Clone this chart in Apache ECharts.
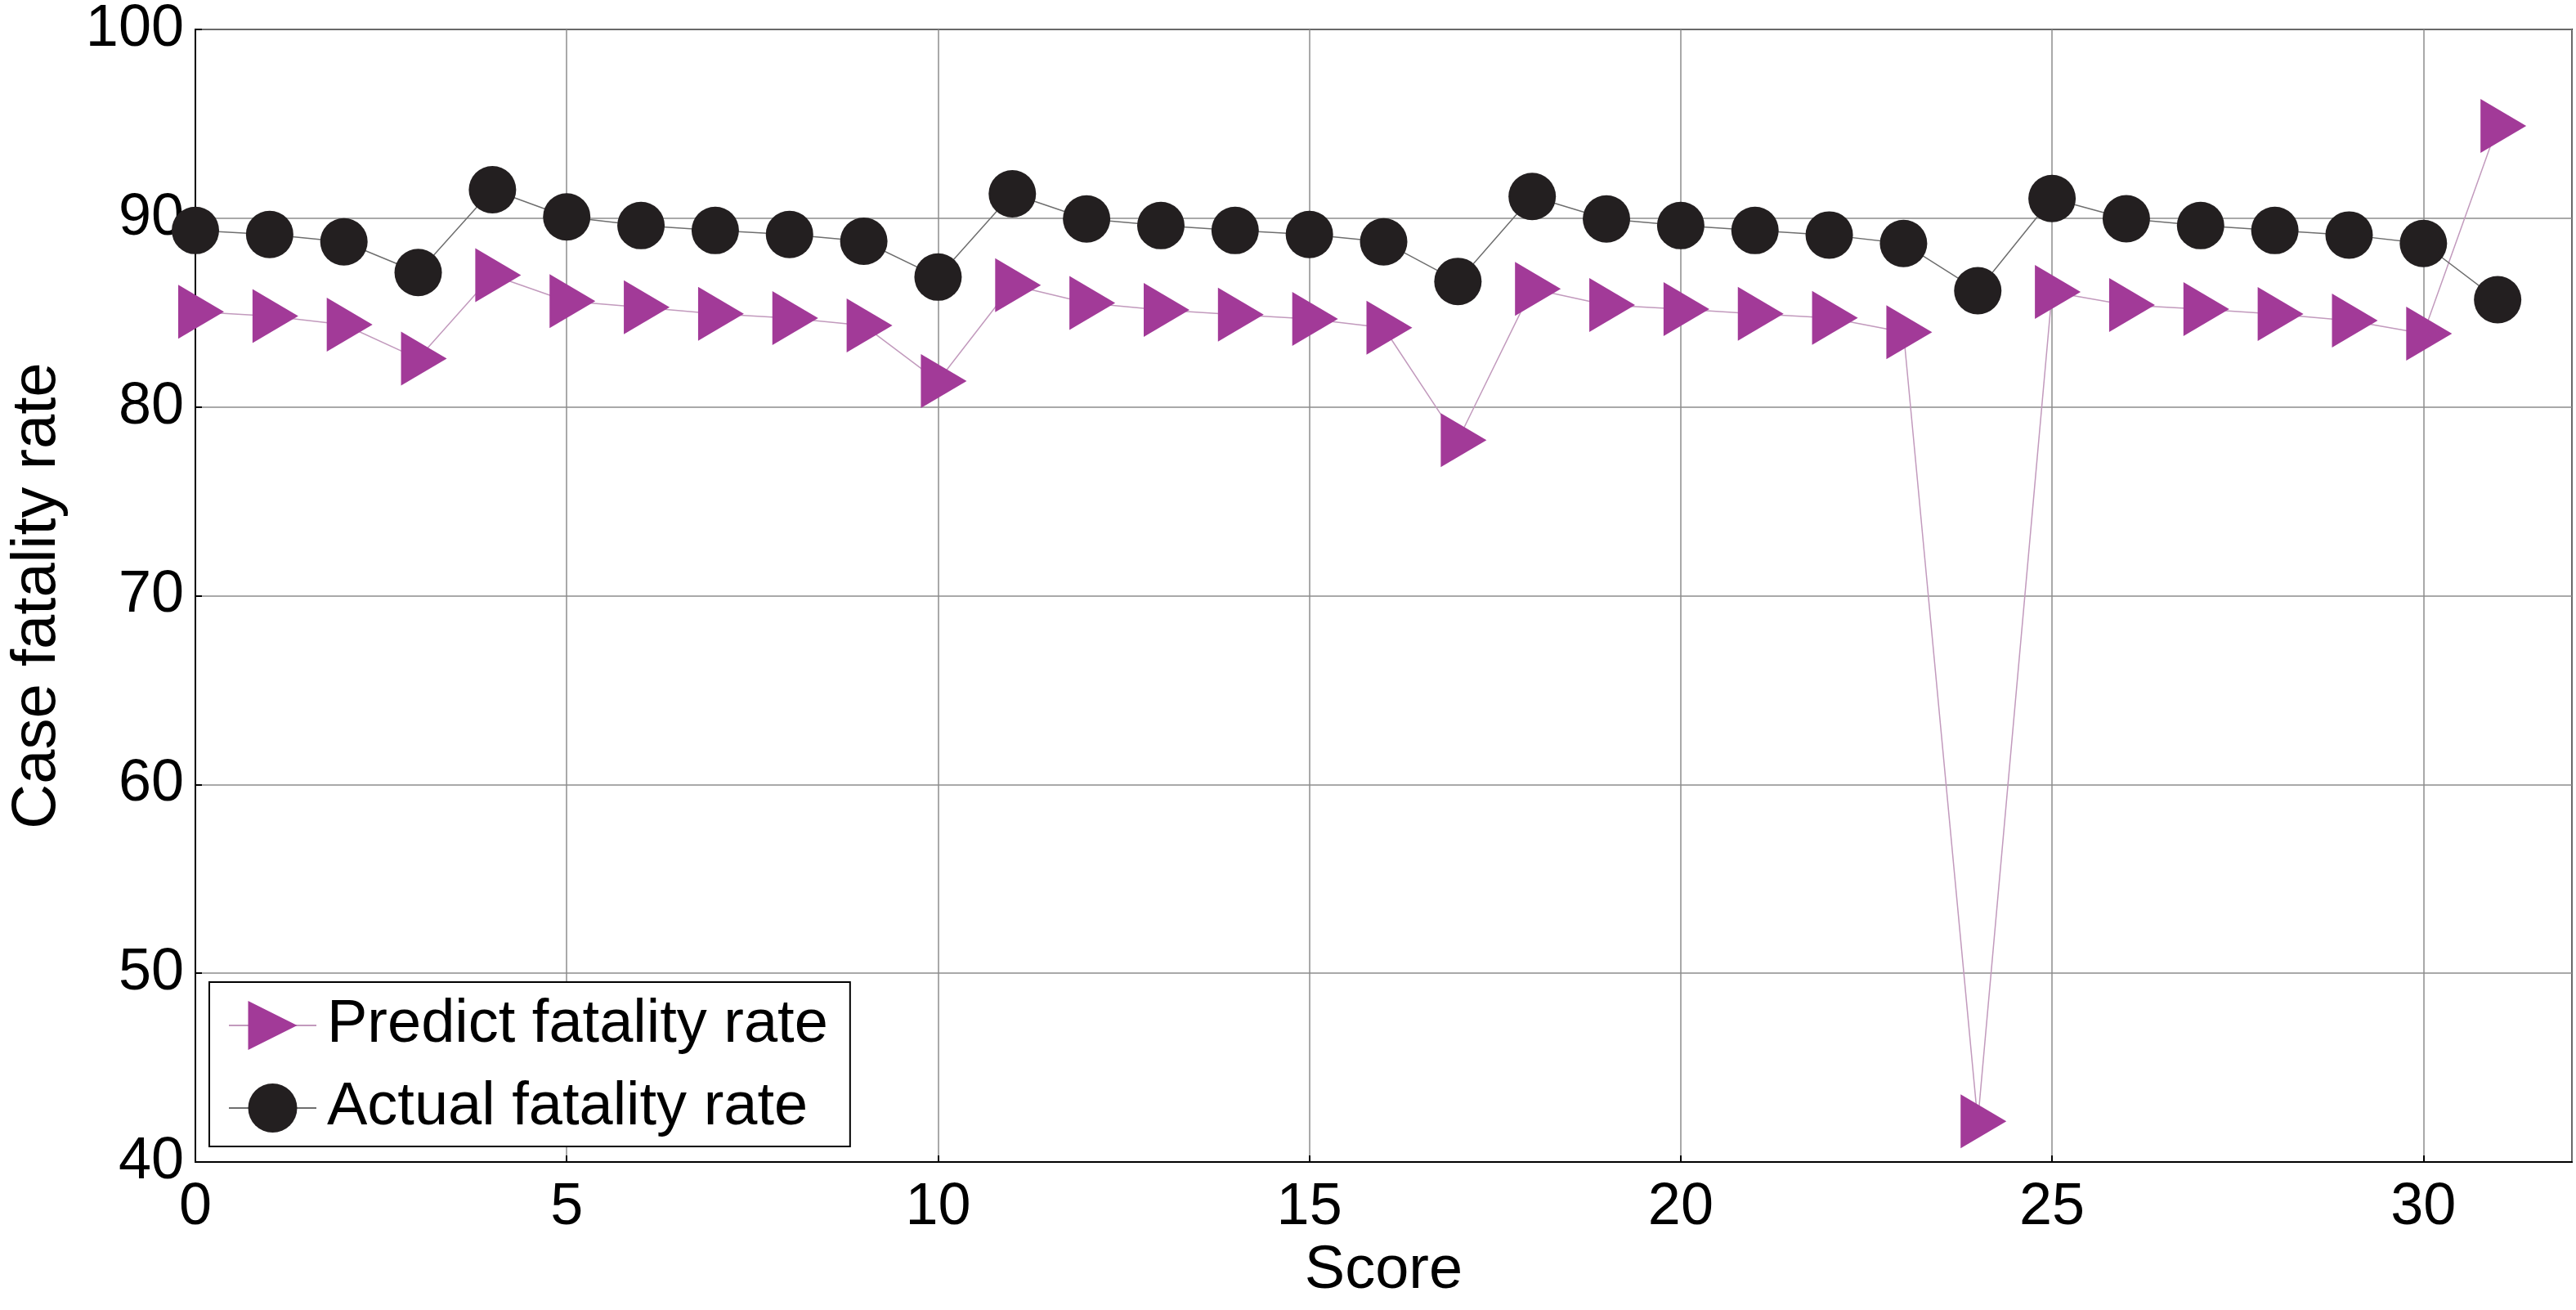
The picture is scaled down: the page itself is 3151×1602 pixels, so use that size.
<!DOCTYPE html>
<html>
<head>
<meta charset="utf-8">
<script src="https://cdn.jsdelivr.net/npm/echarts@6/dist/echarts.min.js"></script>
<style>
html, body { margin: 0; padding: 0; background: #fff; }
#chart1 { width: 3151px; height: 1602px; }
</style>
</head>
<body>
<div id="chart1"></div>
<script>
// scores on the x axis
var scores = [0, 1, 2, 3, 4, 5, 6, 7, 8, 9, 10, 11, 12, 13, 14, 15,
    16, 17, 18, 19, 20, 21, 22, 23, 24, 25, 26, 27, 28, 29, 30, 31];

// predicted fatality rate (triangles)
var predictRate = [85.04, 84.82, 84.36, 82.56, 86.98, 85.61, 85.28, 84.94, 84.71, 84.32,
    81.37, 86.45, 85.51, 85.14, 84.89, 84.66, 84.20, 78.24, 86.26, 85.40,
    85.18, 84.94, 84.72, 83.96, 42.15, 86.09, 85.40, 85.18, 84.92, 84.58,
    83.88, 94.89];

// actual fatality rate (circles)
var actualRate = [89.35, 89.14, 88.75, 87.12, 91.51, 90.07, 89.61, 89.35, 89.14, 88.78,
    86.88, 91.29, 89.96, 89.61, 89.35, 89.14, 88.75, 86.65, 91.15, 89.96,
    89.61, 89.35, 89.11, 88.66, 86.16, 91.04, 89.97, 89.61, 89.35, 89.11,
    88.66, 85.68];

var seriesNames = ['Predict fatality rate', 'Actual fatality rate'];

var FONT = '"Liberation Sans", Arial, sans-serif';

function pairs(xs, ys) {
    var out = [];
    for (var i = 0; i < xs.length; i++) {
        out.push([xs[i], ys[i]]);
    }
    return out;
}

// right-pointing triangle marker
var triPath = 'path://M0,0 L0,66 L56,33 Z';

var chart = echarts.init(document.getElementById('chart1'));

var option = {
    backgroundColor: '#fff',
    animation: false,
    textStyle: { fontFamily: FONT, color: '#000' },
    grid: {
        left: 237,
        right: 5,
        top: 34,
        bottom: 181,
        show: true,
        borderColor: '#000',
        borderWidth: 2,
        backgroundColor: 'transparent'
    },
    legend: {
        orient: 'vertical',
        left: 256,
        top: 1201,
        padding: [16, 27, 10, 23],
        itemWidth: 107,
        itemHeight: 75,
        itemGap: 27,
        backgroundColor: '#fff',
        borderColor: '#000',
        borderWidth: 2,
        borderRadius: 0,
        textStyle: { fontFamily: FONT, fontSize: 74, color: '#000', padding: [0, 0, 0, 8] },
        data: seriesNames
    },
    xAxis: {
        type: 'value',
        min: 0,
        max: 32,
        interval: 5,
        name: 'Score',
        nameLocation: 'middle',
        nameGap: 94,
        nameTextStyle: { fontFamily: FONT, fontSize: 74, color: '#000' },
        axisLine: { show: true, onZero: false, lineStyle: { color: '#000', width: 2 } },
        axisTick: { show: true, inside: true, length: 8, lineStyle: { color: '#000', width: 2 } },
        axisLabel: { margin: 20, fontFamily: FONT, fontSize: 72, color: '#000', showMaxLabel: false },
        splitLine: { show: true, lineStyle: { color: '#8c8c8c', width: 1.5 } }
    },
    yAxis: {
        type: 'value',
        min: 40,
        max: 100,
        interval: 10,
        name: 'Case fatality rate',
        nameLocation: 'middle',
        nameGap: 155,
        nameTextStyle: { fontFamily: FONT, fontSize: 76, color: '#000' },
        axisLine: { show: true, onZero: false, lineStyle: { color: '#000', width: 2 } },
        axisTick: { show: true, inside: true, length: 8, lineStyle: { color: '#000', width: 2 } },
        axisLabel: { margin: 14, fontFamily: FONT, fontSize: 72, color: '#000' },
        splitLine: { show: true, lineStyle: { color: '#8c8c8c', width: 1.5 } }
    },
    series: [{
        name: seriesNames[0],
        type: 'line',
        data: pairs(scores, predictRate),
        symbol: triPath,
        symbolSize: [56, 66],
        symbolOffset: [7, 0],
        itemStyle: { color: '#a23a98' },
        lineStyle: { color: '#c29abd', width: 1.5 },
        z: 2
    }, {
        name: seriesNames[1],
        type: 'line',
        data: pairs(scores, actualRate),
        symbol: 'circle',
        symbolSize: 58,
        itemStyle: { color: '#231f20' },
        lineStyle: { color: '#6e6e6e', width: 1.5 },
        z: 3
    }]
};

chart.setOption(option, true);
</script>
</body>
</html>
